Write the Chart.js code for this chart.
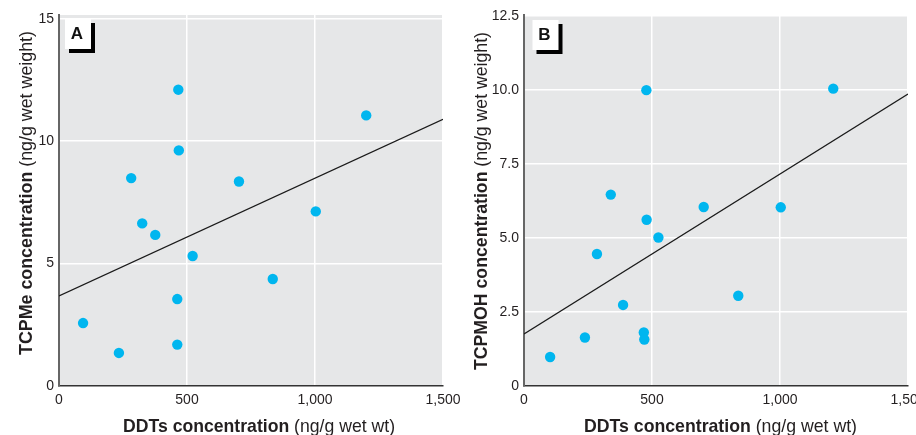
<!DOCTYPE html>
<html>
<head>
<meta charset="utf-8">
<script src="https://cdn.jsdelivr.net/npm/chart.js@4.4.1/dist/chart.umd.min.js"></script>
<style>
  html, body { margin: 0; padding: 0; background: #fff; }
  .wrap { position: relative; width: 916px; height: 435px; overflow: hidden; }
  canvas { position: absolute; top: 0; }
  #chartA { left: 0; }
  #chartB { left: 458px; }
</style>
</head>
<body>
<div class="wrap">
  <canvas id="chartA" width="470" height="435"></canvas>
  <canvas id="chartB" width="458" height="435"></canvas>
</div>
<script>
// Panel A: TCPMe vs DDTs
const ddtA = [466, 1200, 468, 282, 703, 1003, 325, 376, 522, 835, 462, 94, 462, 234];
const tcpmeA = [12.1, 11.05, 9.62, 8.49, 8.35, 7.13, 6.64, 6.17, 5.31, 4.37, 3.55, 2.57, 1.69, 1.35];
const fitXA = [0, 1500];
const fitYA = [3.68, 10.89];

// Panel B: TCPMOH vs DDTs
const ddtB = [478, 1208, 339, 702, 1003, 479, 525, 285, 837, 387, 468, 470, 238, 102];
const tcpmohB = [10.0, 10.05, 6.47, 6.05, 6.04, 5.62, 5.02, 4.46, 3.05, 2.74, 1.81, 1.57, 1.64, 0.98];
const fitXB = [0, 1500];
const fitYB = [1.76, 9.87];

const xTicks = [0, 500, 1000, 1500];
const yTicksA = [0, 5, 10, 15];
const yTicksB = [0, 2.5, 5, 7.5, 10, 12.5];

const FONT = "'Liberation Sans Narrow', 'Liberation Sans', Arial, sans-serif";
const DOT = "#00b6ef";
const INK = "#231f20";

function toPoints(xs, ys) {
  return xs.map((x, i) => ({ x, y: ys[i] }));
}

// bold + regular run of text, squeezed to a given width (condensed look)
function drawMixed(ctx, parts, size, width) {
  let total = 0;
  const widths = parts.map((p) => {
    ctx.font = `${p.bold ? "bold " : ""}${size}px ${FONT}`;
    const w = ctx.measureText(p.text).width;
    total += w;
    return w;
  });
  ctx.scale(width / total, 1);
  let x = -total / 2;
  parts.forEach((p, i) => {
    ctx.font = `${p.bold ? "bold " : ""}${size}px ${FONT}`;
    ctx.fillText(p.text, x, 0);
    x += widths[i];
  });
}

const decor = {
  id: "decor",
  beforeDraw(chart) {
    const { ctx, chartArea: a } = chart;
    ctx.save();
    ctx.fillStyle = "#e6e7e8";
    ctx.fillRect(a.left, a.top, a.right - a.left, a.bottom - a.top);
    ctx.restore();
  },
  afterDraw(chart, args, opts) {
    const { ctx, chartArea: a } = chart;
    ctx.save();
    // panel letter box with drop shadow
    const bx = a.left + opts.boxDx;
    const by = a.top + opts.boxDy;
    ctx.fillStyle = "#000";
    ctx.fillRect(bx + 4, by + 4, 26, 30);
    ctx.fillStyle = "#fff";
    ctx.fillRect(bx, by, 26, 30);
    ctx.fillStyle = "#111";
    ctx.font = `bold 17px ${FONT}`;
    ctx.textAlign = "center";
    ctx.textBaseline = "middle";
    ctx.fillText(opts.letter, bx + 12, by + 15.5);

    ctx.textAlign = "left";
    ctx.textBaseline = "alphabetic";
    ctx.fillStyle = INK;

    ctx.save();
    ctx.translate(opts.xTitleX, 431.7);
    drawMixed(ctx, [
      { text: "DDTs concentration ", bold: true },
      { text: "(ng/g wet wt)", bold: false },
    ], 19, opts.xTitleW);
    ctx.restore();

    ctx.save();
    ctx.translate(opts.yTitleX, opts.yTitleY);
    ctx.rotate(-Math.PI / 2);
    drawMixed(ctx, [
      { text: opts.yBold + " ", bold: true },
      { text: "(ng/g wet weight)", bold: false },
    ], 19, opts.yTitleW);
    ctx.restore();
    ctx.restore();
  },
};

function buildOptions(cfg) {
  return {
    responsive: false,
    animation: false,
    devicePixelRatio: 1,
    layout: { padding: { top: 15, right: cfg.padRight, left: 0, bottom: 0 } },
    plugins: {
      legend: { display: false },
      tooltip: { enabled: false },
      decor: cfg.decor,
    },
    scales: {
      x: {
        type: "linear",
        min: 0,
        max: 1500,
        afterBuildTicks: (axis) => { axis.ticks = xTicks.map((v) => ({ value: v })); },
        afterFit: (axis) => {
          axis.height = 49;
          axis.paddingLeft = 0;
          axis.paddingRight = 0;
        },
        ticks: {
          padding: 6,
          color: INK,
          font: { family: FONT, size: 14 },
          callback: (v) => Number(v).toLocaleString("en-US"),
        },
        grid: { color: "#ffffff", lineWidth: 1.5, drawTicks: false },
        border: { color: "#333333", width: 1.5 },
      },
      y: {
        type: "linear",
        min: 0,
        max: cfg.yMax,
        afterBuildTicks: (axis) => { axis.ticks = cfg.yTicks.map((v) => ({ value: v })); },
        afterFit: (axis) => {
          axis.width = cfg.yWidth;
          axis.paddingTop = 0;
          axis.paddingBottom = 0;
        },
        ticks: {
          padding: 5,
          color: INK,
          font: { family: FONT, size: 14 },
          callback: cfg.yFormat,
        },
        grid: { color: "#ffffff", lineWidth: 1.5, drawTicks: false },
        border: { color: "#666666", width: 2 },
      },
    },
  };
}

function createPanel(id, xs, ys, fitX, fitY, cfg) {
  new Chart(document.getElementById(id), {
    type: "scatter",
    data: {
      datasets: [
        {
          label: "points",
          data: toPoints(xs, ys),
          backgroundColor: DOT,
          borderWidth: 0,
          pointRadius: 5.2,
          order: 1,
        },
        {
          type: "line",
          label: "fit",
          data: toPoints(fitX, fitY),
          borderColor: "#1a1a1a",
          borderWidth: 1.3,
          pointRadius: 0,
          fill: false,
          order: 2,
        },
      ],
    },
    options: buildOptions(cfg),
    plugins: [decor],
  });
}

createPanel("chartA", ddtA, tcpmeA, fitXA, fitYA, {
  padRight: 27,
  yWidth: 59,
  yMax: 15.15,
  yTicks: yTicksA,
  yFormat: (v) => String(v),
  decor: {
    letter: "A", boxDx: 6, boxDy: 4,
    xTitleX: 259, xTitleW: 272,
    yTitleX: 31.7, yTitleY: 193, yTitleW: 324,
    yBold: "TCPMe concentration",
  },
});

createPanel("chartB", ddtB, tcpmohB, fitXB, fitYB, {
  padRight: 8,
  yWidth: 66,
  yMax: 12.54,
  yTicks: yTicksB,
  yFormat: (v) => (v === 0 ? "0" : Number(v).toFixed(1)),
  decor: {
    letter: "B", boxDx: 8.5, boxDy: 5,
    xTitleX: 262.5, xTitleW: 273,
    yTitleX: 28.7, yTitleY: 201, yTitleW: 338,
    yBold: "TCPMOH concentration",
  },
});
</script>
</body>
</html>
